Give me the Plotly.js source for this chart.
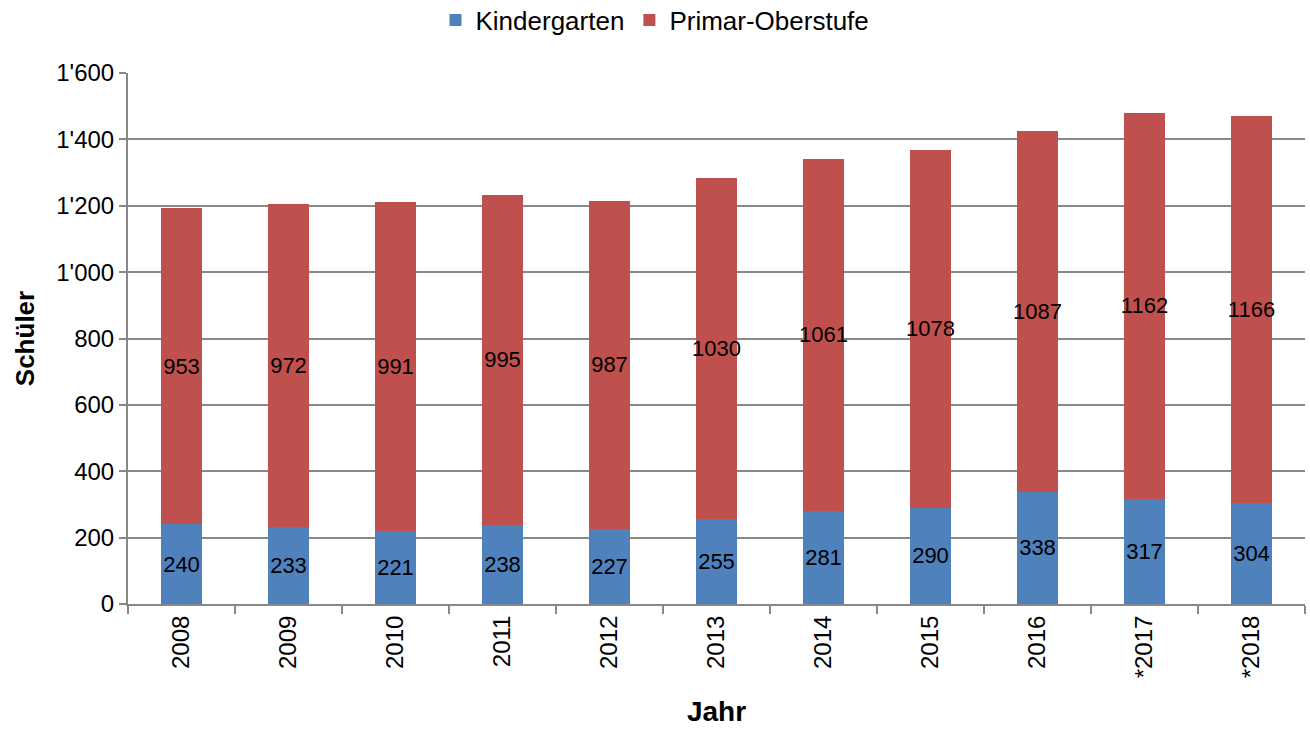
<!DOCTYPE html>
<html><head><meta charset="utf-8">
<script src="https://cdn.plot.ly/plotly-3.0.1.min.js"></script>
<style>html,body{margin:0;padding:0;background:#fff}#chart{width:1310px;height:729px}</style>
</head><body><div id="chart"></div>
<script>
const years = ['2008','2009','2010','2011','2012','2013','2014','2015','2016','*2017','*2018'];
const kindergarten = [240,233,221,238,227,255,281,290,338,317,304];
const primarOberstufe = [953,972,991,995,987,1030,1061,1078,1087,1162,1166];
const seriesNames = ['Kindergarten','Primar-Oberstufe'];
const yTicks = [0,200,400,600,800,1000,1200,1400,1600];

const fam = 'Liberation Sans, Arial, sans-serif';
function trace(name, vals, color){
  return {type:'bar', name:name, x:years, y:vals, text:vals.map(String),
    textposition:'inside', insidetextanchor:'middle', textangle:0,
    textfont:{family:fam, size:22, color:'#000'},
    marker:{color:color, line:{width:0}}, hoverinfo:'x+y+name'};
}
const data = [trace(seriesNames[0], kindergarten, '#4F81BD'), trace(seriesNames[1], primarOberstufe, '#C0504D')];
const layout = {
  width:1310, height:729, barmode:'stack', bargap:0.615,
  margin:{l:128, r:5, t:73, b:125, autoexpand:false},
  paper_bgcolor:'#fff', plot_bgcolor:'#fff',
  separators:".'",
  uniformtext:{minsize:22, mode:'show'},
  font:{family:fam, size:24, color:'#000'},
  showlegend:true,
  legend:{orientation:'h', x:0.5, xanchor:'center', xref:'container', y:1-20/729, yanchor:'middle', yref:'container',
    font:{size:26}, traceorder:'normal', itemwidth:30},
  xaxis:{type:'category', tickangle:-90, tickfont:{size:24},
    showline:true, linecolor:'#888', linewidth:2, ticks:'outside', tickcolor:'#888', ticklen:8, tickwidth:2,
    tickson:'boundaries', showgrid:false,
    title:{text:'Jahr', font:{size:28, weight:'bold'}, standoff:24}},
  yaxis:{range:[0,1600], tickvals:yTicks, tickformat:',d', tickfont:{size:24},
    showline:true, linecolor:'#888', linewidth:2, ticks:'outside', tickcolor:'#888', ticklen:7, tickwidth:2,
    showgrid:true, gridcolor:'#888', gridwidth:2, zeroline:false,
    title:{text:'Schüler', font:{size:26, weight:'bold'}, standoff:14}}
};
Plotly.newPlot('chart', data, layout, {displayModeBar:false, staticPlot:true});
</script></body></html>
